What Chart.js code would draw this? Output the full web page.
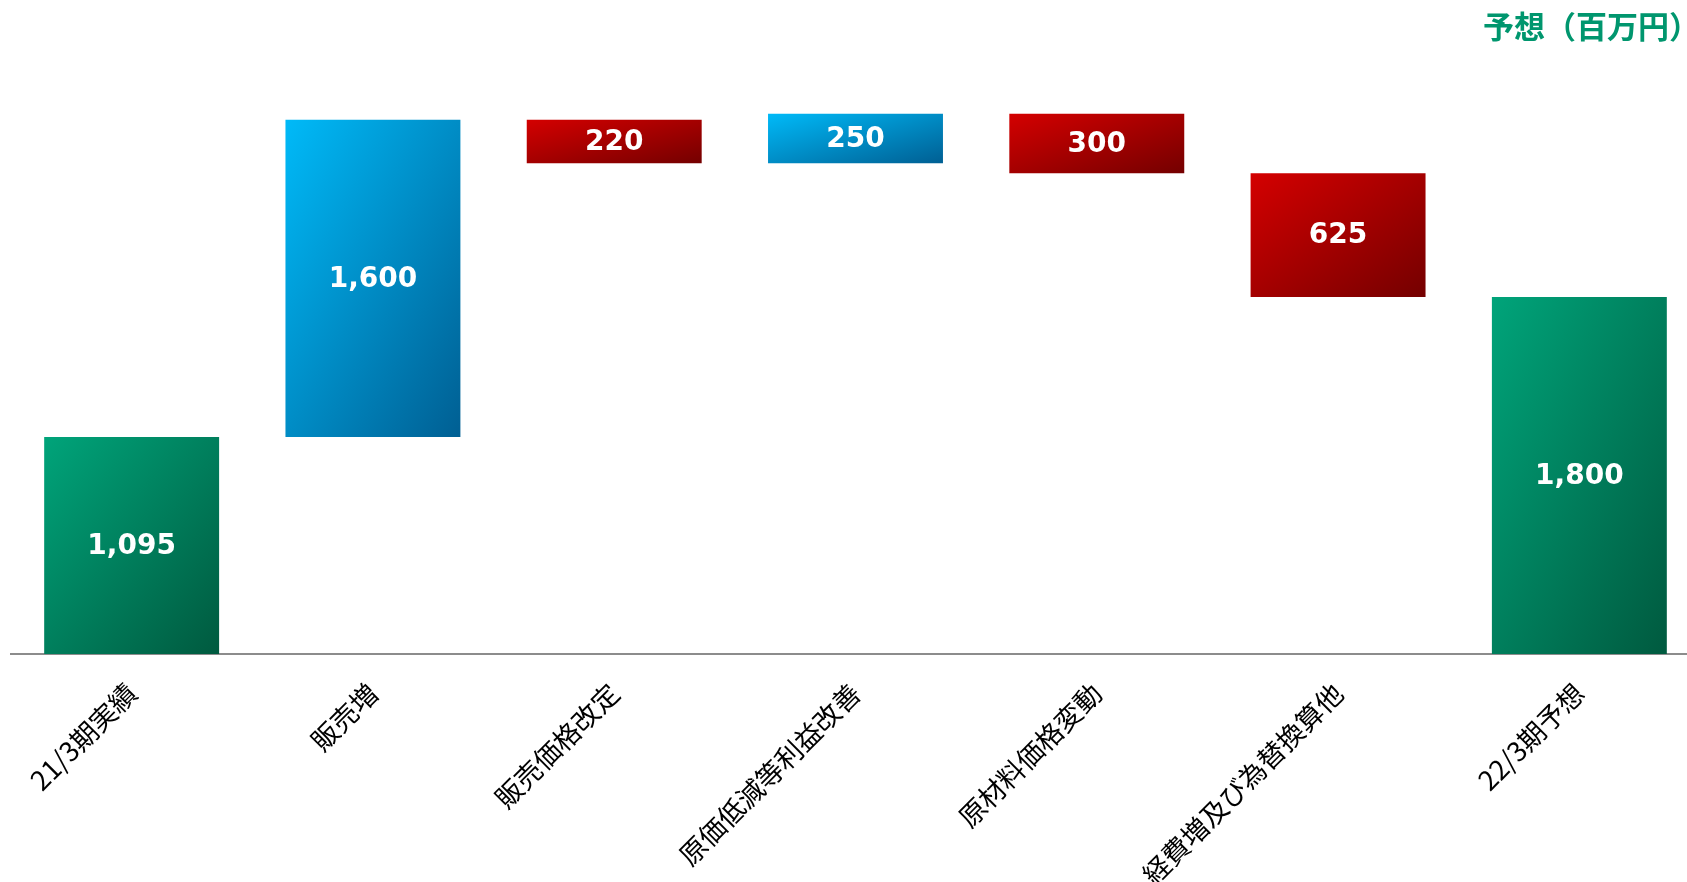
<!DOCTYPE html>
<html lang="ja">
<head>
<meta charset="utf-8">
<title>営業利益増減</title>
<script src="https://cdn.jsdelivr.net/npm/chart.js@4/dist/chart.umd.min.js"></script>
<style>
  html, body { margin: 0; padding: 0; background: #fff; overflow: hidden; }
  #wrap { position: relative; width: 1700px; height: 882px; }
</style>
</head>
<body>
<div id="wrap"><canvas id="bridge"></canvas></div>
<script>
// 営業利益の増減要因（百万円）
const categories = ["21/3期実績", "販売増", "販売価格改定", "原価低減等利益改善", "原材料価格変動", "経費増及び為替換算他", "22/3期予想"];
const changes = [1095, 1600, -220, 250, -300, -625, 1800];
const isTotal = [true, false, false, false, false, false, true];

// floating ranges for the waterfall
let running = 0;
const ranges = changes.map((v, i) => {
  if (isTotal[i]) { running = v; return [0, v]; }
  const from = running;
  running += v;
  return [from, running];
});

const palette = {
  total: ["#00a47a", "#005a3f"],
  up: ["#00baf8", "#005f93"],
  down: ["#d40000", "#740000"]
};

// diagonal gradient that stretches with the bar: bright top-left, dark bottom-right
function barFill(ctx) {
  const chart = ctx.chart;
  const area = chart.chartArea;
  const i = ctx.dataIndex;
  const kind = isTotal[i] ? "total" : (changes[i] >= 0 ? "up" : "down");
  if (!area || i === undefined) return palette[kind][0];
  const xs = chart.scales.x, ys = chart.scales.y;
  const step = xs.getPixelForTick(1) - xs.getPixelForTick(0);
  const w = step * 0.725;
  const left = xs.getPixelForValue(i) - w / 2;
  const top = ys.getPixelForValue(Math.max(...ranges[i]));
  const h = ys.getPixelForValue(Math.min(...ranges[i])) - top;
  const k = 2 * w * h / (w * w + h * h);
  const g = chart.ctx.createLinearGradient(left, top, left + h * k, top + w * k);
  g.addColorStop(0, palette[kind][0]);
  g.addColorStop(1, palette[kind][1]);
  return g;
}

// white value text in the middle of each bar
const barValues = {
  id: "barValues",
  afterDatasetsDraw(chart) {
    const c = chart.ctx;
    const meta = chart.getDatasetMeta(0);
    c.save();
    c.fillStyle = "#ffffff";
    c.font = "bold 28px 'DejaVu Sans', Verdana, sans-serif";
    c.textAlign = "center";
    c.textBaseline = "middle";
    meta.data.forEach((bar, i) => {
      const y = (bar.y + bar.base) / 2 + 1;
      c.fillText(Math.abs(changes[i]).toLocaleString("en-US"), bar.x, y);
    });
    c.restore();
  }
};

new Chart(document.getElementById("bridge"), {
  type: "bar",
  data: {
    labels: categories,
    datasets: [{
      data: ranges,
      backgroundColor: barFill,
      borderWidth: 0,
      barPercentage: 0.725,
      categoryPercentage: 1
    }]
  },
  options: {
    responsive: true,
    maintainAspectRatio: false,
    animation: false,
    layout: { padding: { left: 11, right: 0, top: 0, bottom: 0 } },
    plugins: {
      legend: { display: false },
      tooltip: { enabled: false },
      title: {
        display: true,
        text: "予想（百万円）",
        align: "end",
        color: "#00966e",
        font: { family: "'Noto Sans CJK JP'", size: 31, weight: "bold" },
        padding: { top: 8, bottom: 14 }
      }
    },
    scales: {
      x: {
        grid: { display: false, drawTicks: false },
        border: { display: true, color: "#8c8c8c", width: 2 },
        ticks: {
          autoSkip: false,
          minRotation: 45,
          maxRotation: 45,
          padding: 23,
          color: "#000000",
          font: { family: "'Noto Sans CJK JP'", size: 27 }
        },
        afterFit(scale) {
          scale.height = 228;
          scale.paddingLeft = 0;
          scale.paddingRight = 0;
        }
      },
      y: {
        display: false,
        min: 0,
        max: 3000
      }
    }
  },
  plugins: [barValues]
});
</script>
</body>
</html>
